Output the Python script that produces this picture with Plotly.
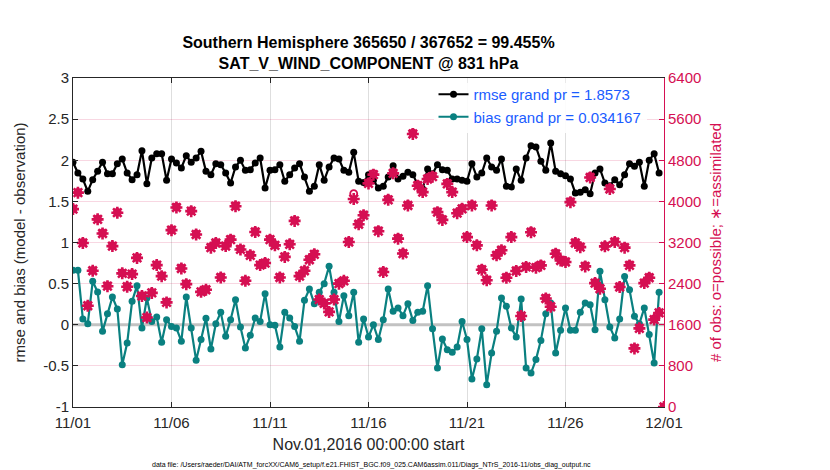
import pandas as pd
import plotly.graph_objects as go

# ---- data ----
times = pd.date_range("2016-11-01 00:00", periods=121, freq="6h")

rmse = [1.975, 1.845, 1.772, 1.622, 1.764, 1.865, 1.975, 1.837, 1.837, 1.958,
        2.015, 1.845, 1.764, 1.825, 2.117, 1.715, 2.027, 2.080, 2.080, 1.756,
        2.015, 1.967, 1.906, 2.056, 1.975, 2.027, 2.108, 1.865, 1.825, 1.958,
        1.946, 1.845, 1.723, 1.918, 2.000, 1.877, 1.886, 1.967, 2.027, 1.663,
        1.877, 1.886, 1.946, 1.744, 1.825, 1.906, 1.958, 1.796, 1.622, 1.683,
        1.946, 1.756, 1.918, 2.027, 2.015, 1.877, 1.853, 2.096, 1.744, 1.731,
        1.825, 1.756, 1.663, 1.683, 1.796, 1.934, 1.772, 1.804, 1.853, 1.825,
        1.703, 1.650, 1.894, 1.837, 1.946, 1.886, 1.877, 1.772, 1.772, 1.756,
        1.744, 1.958, 1.796, 1.845, 2.027, 1.918, 1.877, 2.015, 1.683, 1.675,
        1.894, 1.756, 2.027, 2.177, 2.161, 1.987, 1.877, 2.210, 1.865, 1.837,
        1.812, 1.772, 1.602, 1.610, 1.642, 1.594, 1.845, 1.894, 1.723, 1.691,
        1.764, 1.703, 1.825, 1.958, 1.926, 1.975, 1.683, 2.000, 2.080, 1.845,
        None]

bias = [0.662, 0.662, 0.070, 0.013, 0.528, 0.398, -0.080, 0.135, 0.337, 0.192,
        -0.485, -0.222, 0.285, 0.475, -0.040, 0.325, 0.040, 0.094, -0.214, 0.060,
        -0.020, -0.040, -0.200, 0.337, -0.040, -0.433, -0.180, 0.080, -0.295, 0.013,
        0.151, -0.141, 0.060, 0.305, -0.027, -0.283, -0.129, 0.082, 0.040, 0.378,
        0.000, -0.007, -0.270, 0.151, 0.082, -0.020, -0.200, 0.297, 0.435, 0.256,
        0.394, 0.500, 0.710, 0.394, 0.040, 0.354, 0.110, 0.394, -0.214, 0.070,
        -0.149, 0.000, -0.180, 0.060, 0.435, 0.163, 0.204, 0.110, 0.256, 0.053,
        0.151, 0.163, 0.475, -0.050, -0.526, -0.173, -0.303, -0.335, -0.270, 0.040,
        -0.180, -0.660, -0.416, -0.050, -0.728, -0.343, -0.080, 0.325, 0.224, -0.040,
        -0.149, 0.313, -0.526, -0.587, -0.424, -0.190, 0.135, 0.264, -0.343, -0.068,
        0.204, -0.068, -0.068, 0.151, 0.264, 0.244, -0.060, 0.650, 0.305, -0.027,
        -0.160, 0.070, 0.588, 0.426, 0.102, 0.013, 0.204, -0.120, -0.465, 0.394,
        None]

n_possible = [3860, 4176, 3203, 1978, 2659, 3657, 3385, 2360, 3138, 3787,
              2607, 2347, 2594, 2912, 2166, 1745, 2231, 2769, 2555, 2043,
              3450, 3891, 2704, 2399, 3819, 3365, 2250, 2290, 3113, 3203,
              2529, 3138, 3268, 3917, 3074, 2464, 2963, 3417, 2769, 2814,
              3268, 3158, 2529, 2931, 3178, 3631, 2555, 2659, 2879, 2983,
              2101, 2023, 1861, 2101, 2412, 2464, 3223, 4150, 3567, 3742,
              4370, 4540, 3437, 2639, 4046, 4565, 3288, 2996, 3936, 5330,
              4325, 4196, 4455, 4500, 3806, 3657, 4358, 4196, 3787, 3871,
              3320, 3936, 3158, 2685, 2477, 3936, 2963, 3061, 2529, 3320,
              2659, 1777, 2737, 3417, 2724, 2769, 2121, 1958, 2996, 2866,
              2834, 4001, 3203, 3125, 2750, 4487, 2425, 2315, 3138, 4260,
              3223, 2347, 3113, 2769, 1148, 1537, 2425, 2529, 1712, 1842,
              0]

n_assim = [3850, 4170, 3190, 1970, 2650, 3650, 3375, 2350, 3130, 3780,
           2600, 2340, 2585, 2900, 2160, 1740, 2220, 2760, 2545, 2035,
           3440, 3880, 2695, 2390, 3810, 3355, 2240, 2280, 3100, 3190,
           2520, 3130, 3255, 3905, 3065, 2455, 2950, 3405, 2760, 2800,
           3255, 3145, 2520, 2920, 3165, 3620, 2545, 2650, 2865, 2970,
           2090, 2015, 1850, 2090, 2400, 2455, 3210, 4046, 3555, 3730,
           4350, 4520, 3420, 2625, 4030, 4545, 3275, 2985, 3920, 5310,
           4305, 4180, 4435, 4480, 3790, 3640, 4340, 4180, 3770, 3855,
           3305, 3920, 3145, 2670, 2465, 3920, 2950, 3050, 2515, 3305,
           2645, 1770, 2725, 3400, 2710, 2755, 2110, 1950, 2980, 2850,
           2820, 3985, 3190, 3110, 2735, 4465, 2410, 2300, 3125, 4240,
           3210, 2335, 3100, 2755, 1140, 1530, 2410, 2515, 1700, 1830,
           0]

zero_ref = [0, 0]

xtick_vals = ["2016-11-01", "2016-11-06", "2016-11-11", "2016-11-16",
              "2016-11-21", "2016-11-26", "2016-12-01"]
xtick_text = ["11/01", "11/06", "11/11", "11/16", "11/21", "11/26", "12/01"]
ytick_vals = [-1, -0.5, 0, 0.5, 1, 1.5, 2, 2.5, 3]
ytick_text = ["-1", "-0.5", "0", "0.5", "1", "1.5", "2", "2.5", "3"]
y2tick_vals = [0, 800, 1600, 2400, 3200, 4000, 4800, 5600, 6400]

title_lines = ["Southern Hemisphere 365650 / 367652 = 99.455%",
               "SAT_V_WIND_COMPONENT @ 831 hPa"]
rmse_label = "rmse grand pr = 1.8573"
bias_label = "bias grand pr = 0.034167"
footnote = ("data file: /Users/raeder/DAI/ATM_forcXX/CAM6_setup/"
            "f.e21.FHIST_BGC.f09_025.CAM6assim.011/Diags_NTrS_2016-11/obs_diag_output.nc")

# ---- styles ----
FONT = "Liberation Sans, Arial, Helvetica, sans-serif"
AXC = "#262626"
RED = "#d50f52"
TEAL = "#0a8080"
BLUE = "#1a5cff"

fig = go.Figure()

# zero reference line (drawn first so data lie above it)
fig.add_trace(go.Scatter(
    x=[times[0], times[-1]], y=zero_ref, mode="lines", showlegend=False,
    hoverinfo="skip", line=dict(color="#c2c2c2", width=3), yaxis="y"))

fig.add_trace(go.Scatter(
    x=times, y=rmse, name=rmse_label, mode="lines+markers",
    line=dict(color="black", width=2.2),
    marker=dict(symbol="circle", size=7, color="black"),
    yaxis="y"))
fig.add_trace(go.Scatter(
    x=times, y=bias, name=bias_label, mode="lines+markers",
    line=dict(color=TEAL, width=2.2),
    marker=dict(symbol="circle", size=7, color=TEAL),
    yaxis="y"))
fig.add_trace(go.Scatter(
    x=times, y=n_possible, name="possible", mode="markers", showlegend=False,
    marker=dict(symbol="circle-open", size=7, color=RED, line=dict(width=1.8, color=RED)),
    yaxis="y2"))
fig.add_trace(go.Scatter(
    x=times, y=n_assim, name="assimilated", mode="markers", showlegend=False,
    marker=dict(symbol="asterisk-open", size=10, color=RED, line=dict(width=2.6, color=RED)),
    yaxis="y2"))

fig.update_layout(
    width=830, height=470,
    margin=dict(l=58, r=174, t=70, b=71),
    paper_bgcolor="white", plot_bgcolor="white",
    font=dict(family=FONT, size=15, color=AXC),
    title=dict(text="<b>" + title_lines[0] + "</b><br><b>" + title_lines[1] + "</b>",
               x=0.5, xref="paper", xanchor="center",
               y=1 - 40 / 470, yref="container", yanchor="middle",
               font=dict(family=FONT, size=16, color="black")),
    xaxis=dict(type="date", range=["2016-11-01", "2016-12-01"],
               tickvals=xtick_vals, ticktext=xtick_text,
               ticks="inside", ticklen=5, tickcolor=AXC,
               showline=True, linecolor=AXC, linewidth=1, mirror="ticks",
               showgrid=True, gridcolor="#dedede", gridwidth=1, zeroline=False,
               tickfont=dict(size=15, color=AXC), ticklabelstandoff=2,
               title=dict(text="Nov.01,2016 00:00:00 start", standoff=8,
                          font=dict(size=16, color=AXC))),
    yaxis=dict(range=[-1, 3], tickvals=ytick_vals, ticktext=ytick_text,
               ticks="inside", ticklen=5, tickcolor=AXC,
               showline=True, linecolor=AXC, linewidth=1,
               showgrid=False, zeroline=False,
               tickfont=dict(size=15, color=AXC),
               title=dict(text="rmse and bias (model - observation)", standoff=13,
                          font=dict(size=15, color=AXC))),
    yaxis2=dict(range=[0, 6400], tickvals=y2tick_vals, overlaying="y", side="right",
                anchor="x", ticks="inside", ticklen=5, tickcolor=RED,
                showline=True, linecolor=RED, linewidth=1,
                showgrid=True, gridcolor="rgba(213,15,82,0.17)", gridwidth=1,
                zeroline=False,
                tickfont=dict(size=15, color=RED),
                title=dict(text="# of obs: o=possible; \u2217=assimilated", standoff=10,
                           font=dict(size=15, color=RED))),
    legend=dict(x=0.61, y=1.0, xanchor="left", yanchor="top",
                bgcolor="rgba(255,255,255,0.9)", borderwidth=0,
                font=dict(size=15, color=BLUE), itemwidth=30, tracegroupgap=0),
    showlegend=True,
)

fig.add_annotation(text=footnote, xref="paper", yref="paper",
                   x=0.505, y=(399 - 457) / 329, xanchor="center", yanchor="middle",
                   showarrow=False, font=dict(size=7, color="black"))

fig.write_html("out.html")
